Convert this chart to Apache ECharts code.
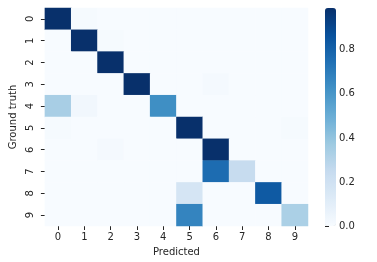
<!DOCTYPE html>
<html><head><meta charset="utf-8">
<script src="https://cdn.jsdelivr.net/npm/echarts@6/dist/echarts.min.js"></script>
<style>html,body{margin:0;padding:0;background:#fff}#c{width:377px;height:262px}</style>
</head><body><div id="c"></div>
<script>
const predictedLabels = ['0','1','2','3','4','5','6','7','8','9'];
const truthLabels = ['0','1','2','3','4','5','6','7','8','9'];
const row0 = [0.99,0.01,0,0,0,0,0,0,0,0];
const row1 = [0,0.99,0.01,0,0,0,0,0,0,0];
const row2 = [0,0,0.99,0,0,0,0,0,0,0];
const row3 = [0,0,0,0.99,0,0,0.015,0,0,0];
const row4 = [0.34,0.03,0,0,0.63,0,0,0,0,0];
const row5 = [0.01,0,0,0,0,0.99,0,0,0,0.01];
const row6 = [0,0,0.015,0,0,0,0.99,0,0,0];
const row7 = [0,0,0,0,0,0,0.76,0.24,0,0];
const row8 = [0,0,0,0,0,0.17,0,0,0.83,0];
const row9 = [0,0,0,0,0,0.67,0,0,0,0.33];
const colorbarTicks = [0,0.2,0.4,0.6,0.8];

const rows = [row0,row1,row2,row3,row4,row5,row6,row7,row8,row9];
const data = [];
let vmax = 0;
rows.forEach((r,i)=>r.forEach((v,j)=>{data.push([j,i,v]); if(v>vmax) vmax=v;}));

const txt = '#262626';
const font = 'DejaVu Sans';
const chart = echarts.init(document.getElementById('c'));
chart.setOption({
  animation:false,
  textStyle:{fontFamily:font},
  grid:[
    {left:40, top:8, width:268, height:218},
    {left:325, top:8, width:11, height:218}
  ],
  xAxis:[
    {gridIndex:0, type:'category', data:predictedLabels, position:'bottom',
     axisLine:{show:false}, axisTick:{show:true, length:4, alignWithLabel:true, lineStyle:{color:txt}},
     axisLabel:{color:txt, fontSize:10, margin:6, fontFamily:font},
     name:'Predicted', nameLocation:'middle', nameGap:21, nameTextStyle:{color:txt, fontSize:10, fontFamily:font}},
    {gridIndex:1, type:'value', show:false, min:0, max:1}
  ],
  yAxis:[
    {gridIndex:0, type:'category', data:truthLabels, inverse:true,
     axisLine:{show:false}, axisTick:{show:true, length:4, alignWithLabel:true, lineStyle:{color:txt}},
     axisLabel:{color:txt, fontSize:10, margin:9, rotate:90, fontFamily:font},
     name:'Ground truth', nameLocation:'middle', nameGap:26, nameRotate:90, nameTextStyle:{color:txt, fontSize:10, fontFamily:font}},
    {gridIndex:1, type:'value', position:'right', min:0, max:vmax,
     axisLine:{show:false}, splitLine:{show:false},
     axisTick:{show:true, length:4, customValues:colorbarTicks, lineStyle:{color:txt}},
     axisLabel:{color:txt, fontSize:10, margin:3, customValues:colorbarTicks, fontFamily:font, formatter:v=>v.toFixed(1)}}
  ],
  visualMap:{
    type:'continuous', seriesIndex:0, min:0, max:vmax, calculable:false,
    orient:'vertical', left:325, top:8, itemWidth:11, itemHeight:218, padding:0,
    text:null, showLabel:false,
    inRange:{color:['#f7fbff','#deebf7','#c6dbef','#9ecae1','#6baed6','#4292c6','#2171b5','#08519c','#08306b']}
  },
  series:[{
    type:'heatmap', xAxisIndex:0, yAxisIndex:0, data:data,
    itemStyle:{borderWidth:0}, emphasis:{disabled:true}
  }]
});
</script>
</body></html>
